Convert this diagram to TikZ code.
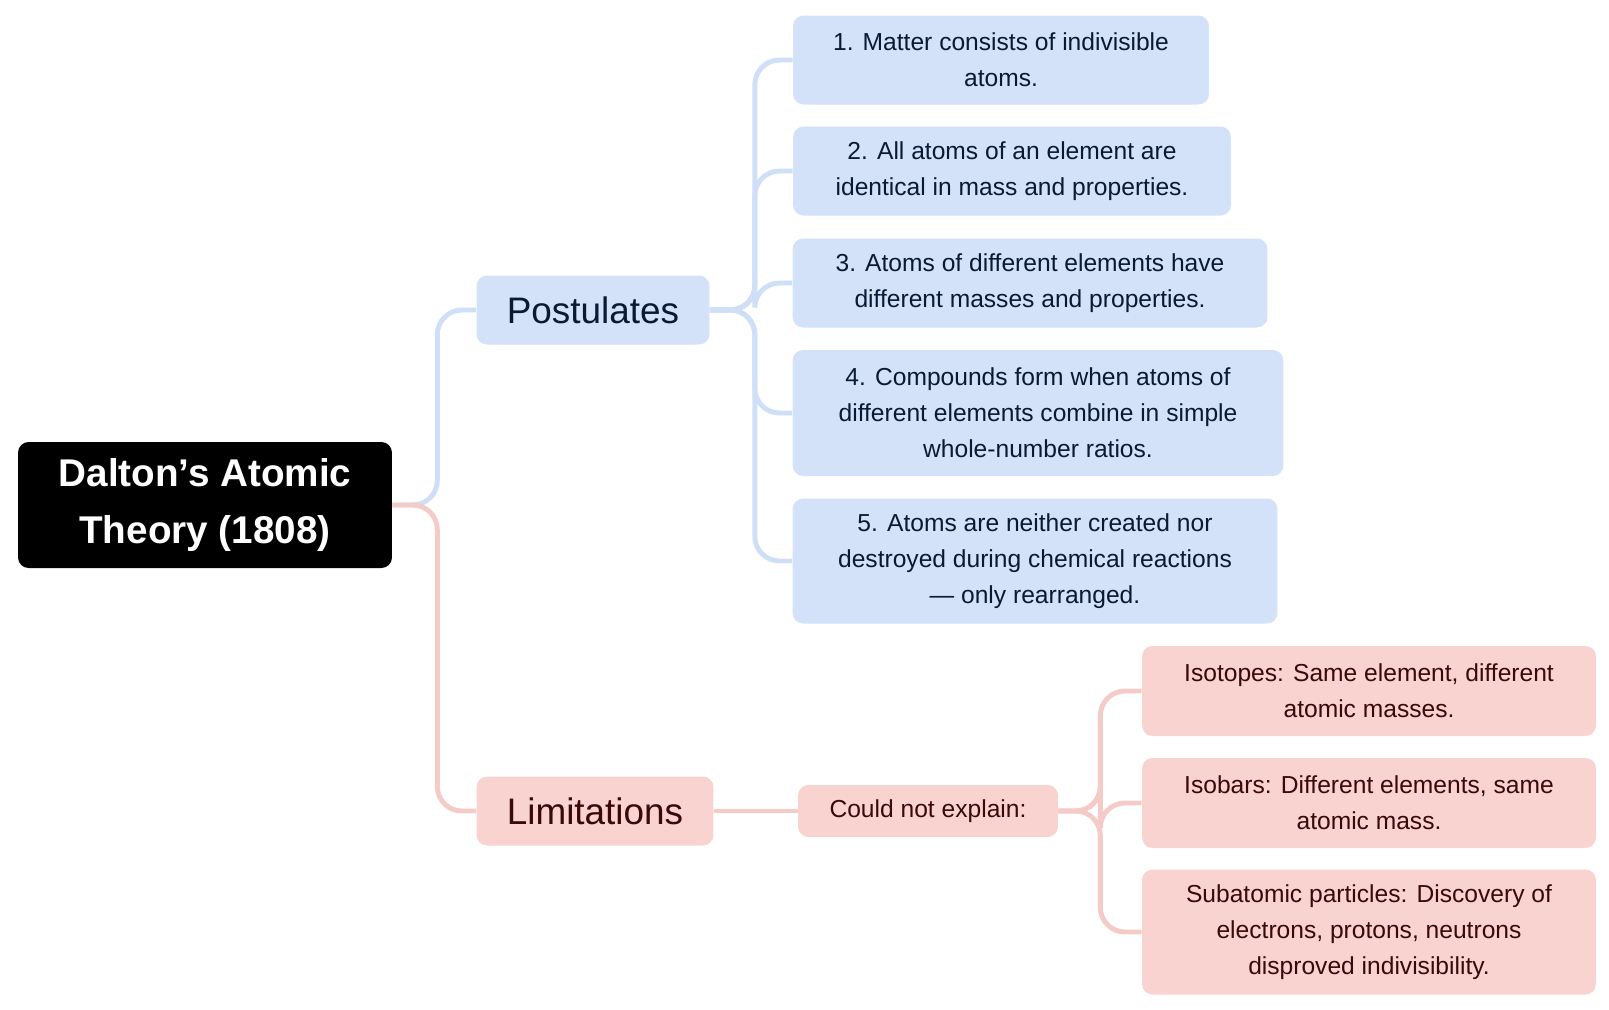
\documentclass[tikz,border=0pt]{standalone}
\usepackage{fontspec}
\setmainfont{Liberation Sans}
\usetikzlibrary{positioning}
\definecolor{postfill}{HTML}{D3E2F8}
\definecolor{postline}{HTML}{CFDFF7}
\definecolor{limfill}{HTML}{F8D3D0}
\definecolor{limline}{HTML}{F5CBC8}
\definecolor{posttext}{HTML}{0B1A33}
\definecolor{limtext}{HTML}{3A0A0A}
\tikzset{
  leaf/.style={rounded corners=6pt,inner sep=0pt,align=center,
    font=\fontsize{14}{20.4}\selectfont},
  pleaf/.style={leaf,fill=postfill,text=posttext},
  lleaf/.style={leaf,fill=limfill,text=limtext},
  branch/.style={rounded corners=6pt,inner sep=0pt,minimum height=1.38cm,
    font=\fontsize{21}{25}\selectfont},
  pline/.style={draw=postline,line width=2.8pt,rounded corners=14pt},
  lline/.style={draw=limline,line width=2.8pt,rounded corners=14pt}
}
\begin{document}
\begin{tikzpicture}[x=0.02cm,y=-0.02cm]
  \useasboundingbox (0,0) rectangle (1609,1009);

  % root
  \node[fill=black,text=white,rounded corners=6pt,inner sep=0pt,
    minimum width=7.48cm,minimum height=2.52cm,align=center,
    font=\fontsize{22}{33}\selectfont\bfseries] (root) at (205,505)
    {Dalton’s Atomic\\Theory (1808)};

  % branches
  \node[branch,fill=postfill,text=posttext,minimum width=4.66cm] (post) at (593,310) {Postulates};
  \node[branch,fill=limfill,text=limtext,minimum width=4.74cm] (lim) at (595,811) {Limitations};

  % postulates
  \node[pleaf,minimum width=8.32cm,minimum height=1.78cm] (p1) at (1001,60)
    {1. Matter consists of indivisible\\atoms.};
  \node[pleaf,minimum width=8.76cm,minimum height=1.78cm] (p2) at (1012,171)
    {2. All atoms of an element are\\identical in mass and properties.};
  \node[pleaf,minimum width=9.5cm,minimum height=1.78cm] (p3) at (1030,283)
    {3. Atoms of different elements have\\different masses and properties.};
  \node[pleaf,minimum width=9.82cm,minimum height=2.52cm] (p4) at (1038,413)
    {4. Compounds form when atoms of\\different elements combine in simple\\whole-number ratios.};
  \node[pleaf,minimum width=9.7cm,minimum height=2.5cm] (p5) at (1035,561)
    {5. Atoms are neither created nor\\destroyed during chemical reactions\\— only rearranged.};

  % limitations
  \node[lleaf,minimum width=5.2cm,minimum height=1.04cm] (expl) at (928,811) {Could not explain:};
  \node[lleaf,minimum width=9.08cm,minimum height=1.8cm] (l1) at (1369,691)
    {Isotopes: Same element, different\\atomic masses.};
  \node[lleaf,minimum width=9.08cm,minimum height=1.8cm] (l2) at (1369,803)
    {Isobars: Different elements, same\\atomic mass.};
  \node[lleaf,minimum width=9.08cm,minimum height=2.5cm] (l3) at (1369,932)
    {Subatomic particles: Discovery of\\electrons, protons, neutrons\\disproved indivisibility.};

  % connectors
  \begin{scope}[on background layer/.style={}]
    \path[pline] (root.east) -- ++(45,0) |- (post.west);
    \path[lline] (root.east) -- ++(45,0) |- (lim.west);
    \foreach \p in {p1,p2,p3,p4,p5}
      \path[pline] (post.east) -- ++(45,0) |- (\p.west);
    \path[lline] (lim.east) -- (expl.west);
    \foreach \l in {l1,l2,l3}
      \path[lline] (expl.east) -- ++(42,0) |- (\l.west);
  \end{scope}
\end{tikzpicture}
\end{document}
